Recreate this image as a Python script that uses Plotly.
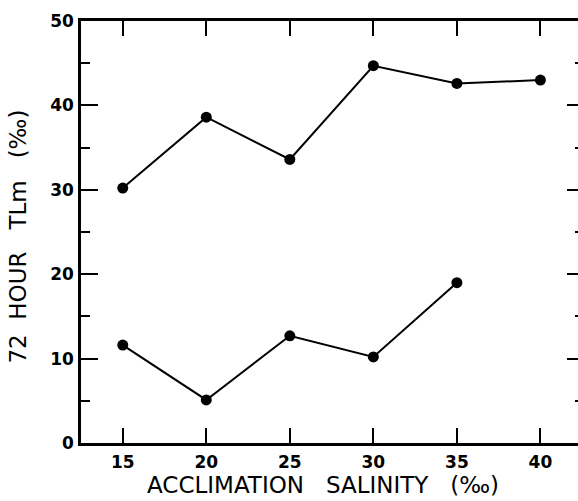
import plotly.graph_objects as go

salinity = [15, 20, 25, 30, 35, 40]
upper_tlm = [30.2, 38.6, 33.6, 44.7, 42.6, 43.0]
salinity_low = [15, 20, 25, 30, 35]
lower_tlm = [11.6, 5.1, 12.7, 10.2, 19.0]
x_ticks = [15, 20, 25, 30, 35, 40]
y_ticks = [0, 10, 20, 30, 40, 50]

FONT = "DejaVu Sans"

fig = go.Figure()
for xs, ys in [(salinity, upper_tlm), (salinity_low, lower_tlm)]:
    fig.add_trace(go.Scatter(
        x=xs, y=ys, mode="lines+markers",
        line=dict(color="black", width=2),
        marker=dict(color="black", size=11),
        showlegend=False,
    ))
# invisible trace for right-side axis ticks
fig.add_trace(go.Scatter(x=[15], y=[0], yaxis="y2", mode="markers",
                         marker=dict(opacity=0), showlegend=False, hoverinfo="skip"))

fig.update_layout(
    width=578, height=501,
    margin=dict(l=81, r=0, t=21, b=58),
    paper_bgcolor="white", plot_bgcolor="white",
    font=dict(family=FONT, size=17, color="black"),
    xaxis=dict(
        range=[12.5, 42.25], tickvals=x_ticks, ticktext=[str(v) for v in x_ticks],
        ticks="inside", ticklen=15, tickwidth=2, tickcolor="black",
        showline=True, linewidth=2.5, linecolor="black", mirror="ticks",
        showgrid=False, zeroline=False, ticklabelstandoff=2,
        tickfont=dict(family=FONT, size=17, weight="bold"),
    ),
    yaxis=dict(
        range=[0, 50], tickvals=y_ticks, ticktext=[str(v) for v in y_ticks],
        ticks="inside", ticklen=17, tickwidth=2, tickcolor="black",
        minor=dict(tickvals=[5, 15, 25, 35, 45], ticks="inside", ticklen=9, tickwidth=2, tickcolor="black"),
        showline=True, linewidth=2.5, linecolor="black",
        showgrid=False, zeroline=False, ticklabelstandoff=1,
        tickfont=dict(family=FONT, size=17, weight="bold"),
    ),
    yaxis2=dict(
        range=[0, 50], overlaying="y", side="right", anchor="x",
        tickvals=[10, 20, 30, 40], ticks="inside", ticklen=11, tickwidth=2, tickcolor="black",
        minor=dict(tickvals=[5, 15, 25, 35, 45], ticks="inside", ticklen=3, tickwidth=2, tickcolor="black"),
        showticklabels=False, showline=False, showgrid=False, zeroline=False,
    ),
    annotations=[
        dict(text="ACCLIMATION   SALINITY   (‰)", xref="paper", yref="paper",
             x=0.487, y=-0.1, xanchor="center", yanchor="middle", showarrow=False,
             font=dict(family=FONT, size=23, color="black")),
        dict(text="72  HOUR   TLm   (‰)", xref="paper", yref="paper",
             x=-0.126, y=0.49, xanchor="center", yanchor="middle", showarrow=False,
             textangle=-90, font=dict(family=FONT, size=23, color="black")),
    ],
)

fig.write_html("out.html")
